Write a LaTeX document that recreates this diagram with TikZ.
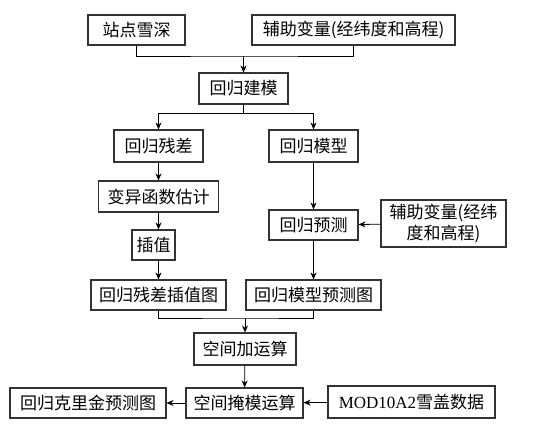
\documentclass[tikz,border=0pt]{standalone}
\usepackage{fontspec}
\setmainfont{Liberation Serif}
\newfontfamily\cjk{Noto Sans CJK SC}
\usepackage{tikz}
\usetikzlibrary{arrows.meta,positioning,calc}
\tikzstyle{box}=[draw=black!80,line width=1.1pt,rectangle,inner sep=0pt,align=center,font=\cjk\fontsize{17}{21}\selectfont]
\tikzstyle{flow}=[line width=0.8pt,-{Stealth[length=7pt,width=6pt]}]

\begin{document}
\begin{tikzpicture}[x=1pt,y=-1pt,line width=0.8pt]
\useasboundingbox (0,0) rectangle (552,430);
\node [box,minimum width=97pt,minimum height=30pt] (zd) at (136.5,30) {站点雪深};
\node [box,minimum width=203pt,minimum height=30pt] (fz1) at (353.5,30) {辅助变量(经纬度和高程)};
\node [box,minimum width=89pt,minimum height=31pt] (jm) at (243.5,88.5) {回归建模};
\node [box,minimum width=89pt,minimum height=32pt] (cc) at (158.5,146) {回归残差};
\node [box,minimum width=89pt,minimum height=32pt] (mx) at (313.5,146) {回归模型};
\node [box,minimum width=120pt,minimum height=31pt] (bh) at (158.5,196.5) {变异函数估计};
\node [box,minimum width=43pt,minimum height=30pt] (cz) at (153.5,245) {插值};
\node [box,minimum width=135pt,minimum height=30pt] (ccT) at (158.5,295) {回归残差插值图};
\node [box,minimum width=89pt,minimum height=30pt] (yc) at (313.5,225) {回归预测};
\node [box,minimum width=125pt,minimum height=47pt] (fz2) at (443.5,223.5) {辅助变量(经纬\\度和高程)};
\node [box,minimum width=135pt,minimum height=30pt] (mxT) at (313.5,295) {回归模型预测图};
\node [box,minimum width=102pt,minimum height=32pt] (jy) at (245,349) {空间加运算};
\node [box,minimum width=117pt,minimum height=30pt] (ym) at (244.5,403) {空间掩模运算};
\node [box,minimum width=156pt,minimum height=30pt] (kj) at (88,403) {回归克里金预测图};
\node [box,minimum width=167pt,minimum height=32pt] (mod) at (411.5,402) {{\rmfamily MOD10A2}雪盖数据};

% joints
\coordinate (m1) at (243.5,56);
\coordinate (m2) at (243.5,113);
\coordinate (m3) at (245,318);

\draw (zd) |- (m1) -| (fz1);
\draw [flow] (m1) -- (jm);
\draw (jm) -- (m2);
\draw [flow] (m2) -| (cc);
\draw [flow] (m2) -| (mx);
\draw [flow] (cc) -- (bh);
\draw [flow] (bh.south) -- (bh.south |- cz.north);
\draw [flow] (bh.south |- cz.south) -- (ccT);
\draw [flow] (mx) -- (yc);
\draw [flow] (fz2) -- (yc);
\draw [flow] (yc) -- (mxT);
\draw (ccT) |- (m3) -| (mxT);
\draw [flow] (m3) -- (jy);
\draw [flow] (jy) -- (ym);
\draw [flow] (ym) -- (kj);
\draw [flow] (mod) -- (ym);
\end{tikzpicture}
\end{document}
